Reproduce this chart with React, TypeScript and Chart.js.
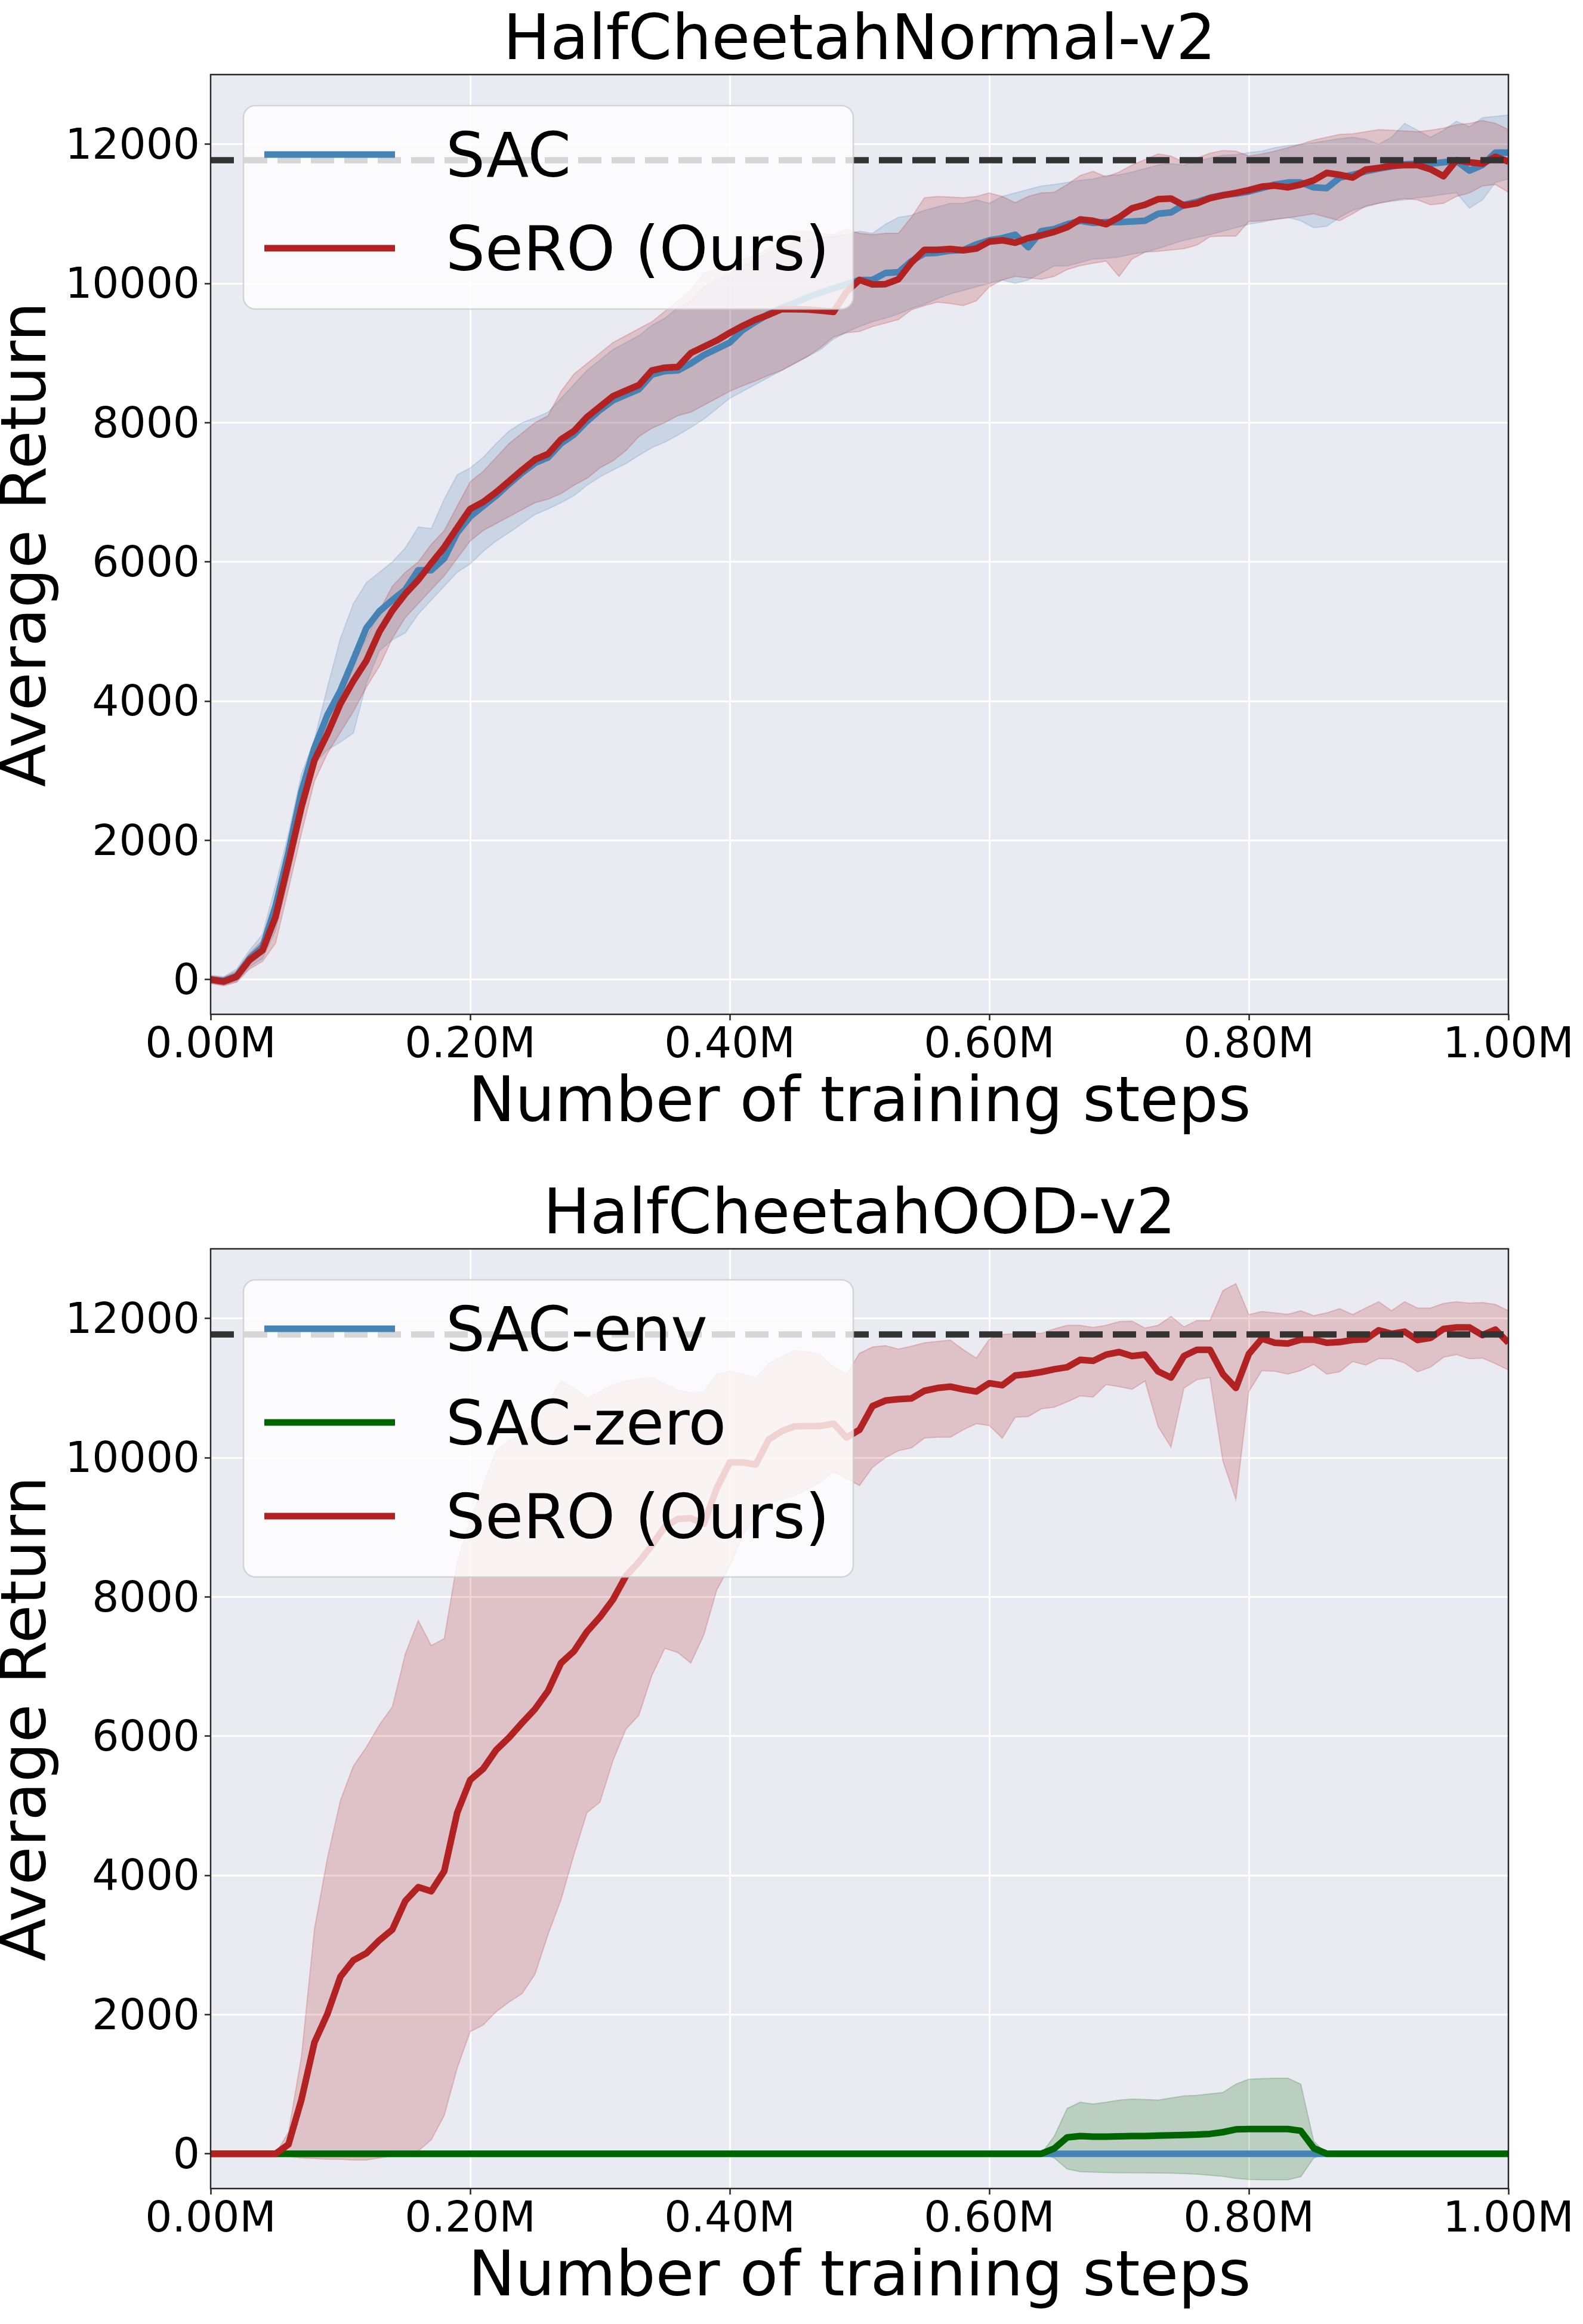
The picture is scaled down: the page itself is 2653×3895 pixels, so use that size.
import React, { useEffect, useRef } from 'react';
import { Chart, registerables } from 'chart.js';

Chart.register(...registerables);

const FONT = "'DejaVu Sans', sans-serif";
const PAGE_W = 2653;
const PAGE_H = 3895;
const TOP_H = 1968;
const BOTTOM_H = PAGE_H - TOP_H;

const BLUE = [70, 130, 180];
const GREEN = [0, 100, 0];
const RED = [178, 34, 34];

// x positions in thousands of training steps (0.01M apart)
const STEPS_K = [
  0, 10, 20, 30, 40, 50, 60, 70, 80, 90,
  100, 110, 120, 130, 140, 150, 160, 170, 180, 190,
  200, 210, 220, 230, 240, 250, 260, 270, 280, 290,
  300, 310, 320, 330, 340, 350, 360, 370, 380, 390,
  400, 410, 420, 430, 440, 450, 460, 470, 480, 490,
  500, 510, 520, 530, 540, 550, 560, 570, 580, 590,
  600, 610, 620, 630, 640, 650, 660, 670, 680, 690,
  700, 710, 720, 730, 740, 750, 760, 770, 780, 790,
  800, 810, 820, 830, 840, 850, 860, 870, 880, 890,
  900, 910, 920, 930, 940, 950, 960, 970, 980, 990,
  1000,
];

const X_TICKS = [0, 200000, 400000, 600000, 800000, 1000000];
const Y_TICKS = [0, 2000, 4000, 6000, 8000, 10000, 12000];
const Y_MIN = -500;
const Y_MAX = 13000;
const REF_RETURN = 11770;

// ---- HalfCheetahNormal-v2 ----
const NORMAL_SAC = [
  0, -20, 50, 300, 470, 1050, 1830, 2700, 3330, 3800,
  4150, 4594, 5050, 5290, 5450, 5600, 5880, 5880, 6050, 6420,
  6650, 6800, 6950, 7120, 7280, 7420, 7500, 7700, 7830, 8020,
  8180, 8320, 8400, 8480, 8690, 8740, 8750, 8850, 8970, 9060,
  9150, 9330, 9450, 9560, 9650, 9720, 9800, 9870, 9930, 9990,
  10050, 10050, 10150, 10160, 10320, 10430, 10440, 10470, 10480, 10560,
  10620, 10650, 10700, 10520, 10750, 10780, 10850, 10900, 10870, 10880,
  10880, 10890, 10900, 11000, 11020, 11130, 11170, 11230, 11270, 11290,
  11320, 11370, 11420, 11450, 11450, 11380, 11370, 11520, 11560, 11610,
  11650, 11680, 11710, 11720, 11720, 11740, 11760, 11620, 11700, 11880,
  11880,
];
const NORMAL_SAC_HI = [
  60, 40, 150, 420, 650, 1350, 2100, 2950, 3450, 4200,
  4900, 5400, 5700, 5850, 6000, 6200, 6500, 6480, 6900, 7250,
  7350, 7500, 7700, 7880, 8000, 8070, 8150, 8350, 8550, 8750,
  8900, 9050, 9150, 9250, 9400, 9500, 9650, 9750, 9950, 10050,
  10150, 10250, 10350, 10450, 10500, 10600, 10620, 10650, 10680, 10700,
  10750, 10720, 10850, 10950, 10980, 11050, 11100, 11150, 11150, 11200,
  11150, 11250, 11300, 11350, 11400, 11420, 11450, 11480, 11500, 11550,
  11560, 11600, 11650, 11700, 11720, 11700, 11760, 11800, 11840, 11850,
  11880, 11900, 11950, 11980, 12000, 12020, 12050, 12080, 12100, 12070,
  12000, 12100, 12300, 12200, 12100, 12200, 12330, 12250, 12380, 12400,
  12420,
];
const NORMAL_SAC_LO = [
  -60, -80, -30, 180, 300, 700, 1450, 2300, 3100, 3300,
  3410, 3540, 4250, 4720, 4880, 4980, 5250, 5450, 5650, 5850,
  5970, 6150, 6300, 6420, 6550, 6680, 6760, 6850, 6950, 7100,
  7220, 7320, 7410, 7530, 7640, 7720, 7820, 7930, 8050, 8200,
  8350, 8450, 8550, 8650, 8750, 8850, 8950, 9050, 9200, 9300,
  9380, 9450, 9500, 9560, 9640, 9700, 9780, 9850, 9900, 9950,
  10000, 10050, 10000, 10050, 10150, 10250, 10250, 10300, 10350, 10360,
  10380, 10420, 10450, 10500, 10560, 10620, 10660, 10700, 10750, 10800,
  10850, 10880, 10920, 10950, 10900, 10800, 10820, 10950, 11050, 11100,
  11150, 11180, 11200, 11230, 11250, 11280, 11300, 11080, 11200, 11450,
  11500,
];
const NORMAL_SERO = [
  0, -30, 40, 280, 420, 900, 1680, 2480, 3150, 3530,
  3960, 4290, 4580, 4995, 5300, 5540, 5740, 5980, 6210, 6490,
  6760, 6860, 7000, 7160, 7320, 7470, 7550, 7760, 7880, 8080,
  8230, 8380, 8460, 8540, 8750, 8790, 8800, 9000, 9090, 9180,
  9290, 9390, 9480, 9550, 9630, 9630, 9625, 9610, 9590, 9880,
  10050, 9985, 9990, 10060, 10300, 10483, 10483, 10495, 10475, 10500,
  10600, 10620, 10585, 10650, 10690, 10740, 10807, 10920, 10900, 10850,
  10950, 11080, 11130, 11210, 11220, 11120, 11150, 11225, 11265, 11300,
  11340, 11390, 11405, 11380, 11420, 11480, 11588, 11560, 11520, 11635,
  11660, 11690, 11700, 11700, 11640, 11540, 11770, 11740, 11720, 11820,
  11750,
];
const NORMAL_SERO_HI = [
  50, 30, 120, 380, 560, 1200, 1950, 2780, 3380, 3780,
  4250, 4600, 4900, 5300, 5650, 5850, 6000, 6250, 6450, 6800,
  7150, 7300, 7500, 7700, 7850, 8000, 8100, 8450, 8700, 8850,
  9000, 9150, 9250, 9350, 9450, 9600, 9750, 9900, 10150, 10200,
  10250, 10350, 10400, 10500, 10600, 10750, 10750, 10720, 10700, 10780,
  10720, 10700, 10720, 10720, 10950, 11230, 11250, 11240, 11230, 11250,
  11300, 11250, 11160, 11250, 11300, 11310, 11420, 11550, 11610, 11530,
  11600, 11700, 11780, 11860, 11830, 11740, 11800, 11870, 11910, 11900,
  11830, 11860, 11900, 11950, 12000, 12060, 12100, 12140, 12150, 12180,
  12210, 12200, 12190, 12180, 12200, 12230, 12280, 12300, 12340, 12300,
  12210,
];
const NORMAL_SERO_LO = [
  -50, -90, -40, 150, 260, 520, 1300, 2100, 2850, 3250,
  3550, 3850, 4200, 4500, 4900, 5200, 5400, 5600, 5800, 6050,
  6300, 6450, 6550, 6650, 6750, 6850, 6900, 6980, 7100, 7200,
  7350, 7450, 7600, 7800, 7920, 8000, 8100, 8150, 8250, 8350,
  8450, 8530, 8600, 8680, 8750, 8850, 8950, 9080, 9230, 9290,
  9310, 9380, 9430, 9480, 9620, 9680, 9730, 9710, 9680, 9750,
  9950, 10050, 10100, 10080, 10060, 10100, 10200, 10255, 10290, 10320,
  10100, 10350, 10450, 10460, 10480, 10500, 10550, 10670, 10680, 10680,
  10890, 10900, 10920, 10940, 10970, 11000, 10950, 10900, 11000, 11110,
  11150, 11190, 11220, 11200, 11130, 11150, 11250, 11300, 11400, 11420,
  11310,
];

// ---- HalfCheetahOOD-v2 ----
const OOD_SAC_ENV = [
  0, 0, 0, 0, 0, 0, 0, 0, 0, 0,
  0, 0, 0, 0, 0, 0, 0, 0, 0, 0,
  0, 0, 0, 0, 0, 0, 0, 0, 0, 0,
  0, 0, 0, 0, 0, 0, 0, 0, 0, 0,
  0, 0, 0, 0, 0, 0, 0, 0, 0, 0,
  0, 0, 0, 0, 0, 0, 0, 0, 0, 0,
  0, 0, 0, 0, 0, 0, 0, 0, 0, 0,
  0, 0, 0, 0, 0, 0, 0, 0, 0, 0,
  0, 0, 0, 0, 0, 0, 0, 0, 0, 0,
  0, 0, 0, 0, 0, 0, 0, 0, 0, 0,
  0,
];
const OOD_SAC_ZERO = [
  0, 0, 0, 0, 0, 0, 0, 0, 0, 0,
  0, 0, 0, 0, 0, 0, 0, 0, 0, 0,
  0, 0, 0, 0, 0, 0, 0, 0, 0, 0,
  0, 0, 0, 0, 0, 0, 0, 0, 0, 0,
  0, 0, 0, 0, 0, 0, 0, 0, 0, 0,
  0, 0, 0, 0, 0, 0, 0, 0, 0, 0,
  0, 0, 0, 0, 0, 75, 235, 255, 245, 245,
  250, 255, 255, 260, 265, 270, 275, 285, 310, 350,
  355, 355, 355, 355, 330, 80, 0, 0, 0, 0,
  0, 0, 0, 0, 0, 0, 0, 0, 0, 0,
  0,
];
const OOD_SAC_ZERO_HI = [
  0, 0, 0, 0, 0, 0, 0, 0, 0, 0,
  0, 0, 0, 0, 0, 0, 0, 0, 0, 0,
  0, 0, 0, 0, 0, 0, 0, 0, 0, 0,
  0, 0, 0, 0, 0, 0, 0, 0, 0, 0,
  0, 0, 0, 0, 0, 0, 0, 0, 0, 0,
  0, 0, 0, 0, 0, 0, 0, 0, 0, 0,
  0, 0, 0, 0, 0, 250, 650, 740, 715, 740,
  770, 786, 780, 770, 800, 830, 840, 860, 880, 1000,
  1070, 1080, 1085, 1086, 1000, 180, 0, 0, 0, 0,
  0, 0, 0, 0, 0, 0, 0, 0, 0, 0,
  0,
];
const OOD_SAC_ZERO_LO = [
  0, 0, 0, 0, 0, 0, 0, 0, 0, 0,
  0, 0, 0, 0, 0, 0, 0, 0, 0, 0,
  0, 0, 0, 0, 0, 0, 0, 0, 0, 0,
  0, 0, 0, 0, 0, 0, 0, 0, 0, 0,
  0, 0, 0, 0, 0, 0, 0, 0, 0, 0,
  0, 0, 0, 0, 0, 0, 0, 0, 0, 0,
  0, 0, 0, 0, 0, -60, -220, -258, -265, -270,
  -272, -274, -275, -278, -280, -285, -295, -310, -325, -355,
  -370, -374, -374, -374, -330, -60, 0, 0, 0, 0,
  0, 0, 0, 0, 0, 0, 0, 0, 0, 0,
  0,
];
const OOD_SERO = [
  0, 0, 0, 0, 0, 0, 134, 780, 1600, 2010,
  2543, 2780, 2880, 3066, 3220, 3632, 3830, 3770, 4060, 4900,
  5370, 5530, 5800, 5980, 6190, 6390, 6650, 7050, 7220, 7500,
  7710, 7960, 8300, 8500, 8740, 9010, 9120, 9130, 9050, 9560,
  9931, 9931, 9900, 10260, 10380, 10450, 10455, 10455, 10490, 10290,
  10400, 10740, 10820, 10840, 10850, 10960, 11000, 11020, 10980, 10950,
  11070, 11040, 11180, 11200, 11230, 11270, 11300, 11405, 11390, 11480,
  11517, 11460, 11480, 11240, 11150, 11460, 11550, 11550, 11200, 11000,
  11490, 11710, 11650, 11640, 11696, 11696, 11650, 11660, 11690, 11700,
  11830, 11780, 11810, 11690, 11720, 11850, 11870, 11870, 11760, 11840,
  11650,
];
const OOD_SERO_HI = [
  0, 0, 0, 0, 0, 0, 309, 1400, 3230, 4250,
  5076, 5570, 5840, 6160, 6420, 7180, 7660, 7300, 7400, 8500,
  9100, 9600, 10100, 10250, 10330, 10500, 10800, 11100, 11000, 10860,
  10950, 11050, 11100, 11130, 11150, 11060, 10970, 10930, 10950, 11200,
  11240, 11200, 11150, 11350, 11450, 11540, 11520, 11480, 11300, 11200,
  11500, 11590, 11610, 11560, 11600, 11650, 11670, 11688, 11550, 11430,
  11700, 11770, 11780, 11790, 11786, 11850, 11900, 11900, 11870, 11900,
  11955, 11961, 11862, 11900, 12030, 11880, 11970, 11970, 12400, 12500,
  12055, 12100, 12080, 12060, 12110, 12040, 12080, 12140, 12055, 12150,
  12240, 12110, 12240, 12150, 12150, 12215, 12240, 12220, 12228, 12200,
  12110,
];
const OOD_SERO_LO = [
  0, 0, 0, 0, 0, 0, -40, -60, -70, -80,
  -80, -90, -90, -60, -30, 0, 40, 200, 550, 1230,
  1754, 1850, 2040, 2180, 2300, 2580, 3150, 3650, 4300, 4900,
  5050, 5646, 6100, 6300, 6870, 7260, 7200, 7050, 7450, 8100,
  8443, 8880, 9150, 9340, 9400, 9450, 9550, 9650, 9800, 9700,
  9600, 9860, 10000, 10100, 10140, 10280, 10294, 10294, 10400, 10488,
  10460, 10280, 10580, 10590, 10700, 10725, 10800, 10887, 10870, 11050,
  11020, 10982, 11100, 10450, 10150, 11000, 11120, 11150, 9950, 9400,
  10950, 11250, 11240, 11200, 11250, 11340, 11200, 11233, 11380, 11330,
  11423, 11420, 11360, 11233, 11300, 11442, 11480, 11420, 11430, 11350,
  11260,
];

interface Series {
  label: string;
  rgb: number[];
  mean: number[];
  hi?: number[];
  lo?: number[];
}

const rgba = (rgb: number[], a: number) => `rgba(${rgb[0]},${rgb[1]},${rgb[2]},${a})`;

const toPoints = (values: number[]) => values.map((y, i) => ({ x: STEPS_K[i] * 1000, y }));

function buildDatasets(series: Series[]) {
  const ds: any[] = [];
  // shaded bands first, then the mean curves, then the dashed reference
  series.forEach((s) => {
    if (!s.hi || !s.lo) return;
    const lowerIndex = ds.length + 1;
    ds.push({
      data: toPoints(s.hi),
      borderColor: rgba(s.rgb, 0.2),
      borderWidth: 2,
      backgroundColor: rgba(s.rgb, 0.2),
      fill: lowerIndex,
      pointRadius: 0,
      clip: 0,
      order: 100 - ds.length,
    });
    ds.push({
      data: toPoints(s.lo),
      borderColor: rgba(s.rgb, 0.2),
      borderWidth: 2,
      fill: false,
      pointRadius: 0,
      clip: 0,
      order: 100 - ds.length,
    });
  });
  series.forEach((s) => {
    ds.push({
      data: toPoints(s.mean),
      borderColor: rgba(s.rgb, 1),
      borderWidth: 11,
      borderJoinStyle: 'round',
      fill: false,
      pointRadius: 0,
      clip: 0,
      order: 100 - ds.length,
    });
  });
  ds.push({
    data: [
      { x: 0, y: REF_RETURN },
      { x: 1000000, y: REF_RETURN },
    ],
    borderColor: '#333333',
    borderWidth: 10.6,
    borderDash: [39, 17],
    borderCapStyle: 'butt',
    fill: false,
    pointRadius: 0,
    clip: 0,
    order: 0,
  });
  return ds;
}

// background, matplotlib-style legend box and the axes frame
function panelPlugin(series: Series[]) {
  return {
    id: 'mplPanel',
    beforeDraw(chart: any) {
      const { ctx, chartArea: a } = chart;
      ctx.save();
      ctx.fillStyle = '#EAEAF2';
      ctx.fillRect(a.left, a.top, a.right - a.left, a.bottom - a.top);
      ctx.restore();
    },
    afterDatasetsDraw(chart: any) {
      const { ctx, chartArea: a } = chart;
      const x0 = a.left + 55;
      const y0 = a.top + 52;
      ctx.save();
      ctx.font = `104px ${FONT}`;
      const textW = Math.max(...series.map((s) => ctx.measureText(s.label).width));
      const w = 339 + textW + 40;
      const h = 82 + (series.length - 1) * 157 + 102;
      ctx.beginPath();
      ctx.roundRect(x0, y0, w, h, 20);
      ctx.fillStyle = 'rgba(255,255,255,0.8)';
      ctx.fill();
      ctx.lineWidth = 2.5;
      ctx.strokeStyle = 'rgba(204,204,204,0.8)';
      ctx.stroke();
      series.forEach((s, i) => {
        const y = y0 + 82 + i * 157;
        ctx.beginPath();
        ctx.moveTo(x0 + 35, y);
        ctx.lineTo(x0 + 254, y);
        ctx.lineWidth = 11;
        ctx.strokeStyle = rgba(s.rgb, 1);
        ctx.stroke();
        ctx.fillStyle = '#000';
        ctx.textBaseline = 'middle';
        ctx.textAlign = 'left';
        ctx.fillText(s.label, x0 + 339, y + 10);
      });
      ctx.restore();
    },
    afterDraw(chart: any) {
      const { ctx, chartArea: a } = chart;
      ctx.save();
      ctx.lineWidth = 2.5;
      ctx.strokeStyle = '#262626';
      ctx.strokeRect(a.left, a.top, a.right - a.left, a.bottom - a.top);
      ctx.restore();
    },
  };
}

interface PanelProps {
  title: string;
  height: number;
  series: Series[];
}

const Panel: React.FC<PanelProps> = ({ title, height, series }) => {
  const canvasRef = useRef<HTMLCanvasElement | null>(null);

  useEffect(() => {
    if (!canvasRef.current) return;
    const xAxisHeight = height - 1700;

    const chart = new Chart(canvasRef.current, {
      type: 'line',
      data: { datasets: buildDatasets(series) },
      options: {
        animation: false,
        responsive: false,
        devicePixelRatio: 1,
        events: [],
        layout: { padding: { left: 0, right: 125, top: 0, bottom: 0 } },
        plugins: {
          legend: { display: false },
          tooltip: { enabled: false },
          title: {
            display: true,
            text: title,
            fullSize: false,
            color: '#000',
            font: { family: FONT, size: 105, weight: 'normal', lineHeight: 1 },
            padding: { top: 19, bottom: 1 },
          },
        },
        scales: {
          x: {
            type: 'linear',
            min: 0,
            max: 1000000,
            afterBuildTicks: (scale: any) => {
              scale.ticks = X_TICKS.map((value) => ({ value }));
            },
            afterFit: (scale: any) => {
              scale.height = xAxisHeight;
              scale.paddingLeft = 0;
              scale.paddingRight = 0;
            },
            ticks: {
              autoSkip: false,
              maxRotation: 0,
              minRotation: 0,
              padding: 15,
              color: '#000',
              font: { family: FONT, size: 71, lineHeight: 0.8 },
              callback: (v: any) => (Number(v) / 1e6).toFixed(2) + 'M',
            },
            grid: {
              color: '#ffffff',
              lineWidth: 3,
              drawTicks: true,
              tickLength: 10,
              tickColor: '#262626',
              tickWidth: 2.5,
            },
            border: { display: false },
            title: {
              display: true,
              text: 'Number of training steps',
              color: '#000',
              font: { family: FONT, size: 105, lineHeight: 1 },
              padding: { top: 0, bottom: height - 1851 - 53 },
            },
          },
          y: {
            type: 'linear',
            min: Y_MIN,
            max: Y_MAX,
            afterBuildTicks: (scale: any) => {
              scale.ticks = Y_TICKS.map((value) => ({ value }));
            },
            afterFit: (scale: any) => {
              scale.width = 353;
              scale.paddingTop = 0;
              scale.paddingBottom = 0;
            },
            ticks: {
              padding: 8,
              labelOffset: 6,
              color: '#000',
              font: { family: FONT, size: 71, lineHeight: 1 },
              callback: (v: any) => String(v),
            },
            grid: {
              color: '#ffffff',
              lineWidth: 3,
              drawTicks: true,
              tickLength: 10,
              tickColor: '#262626',
              tickWidth: 2.5,
            },
            border: { display: false },
            title: {
              display: true,
              text: 'Average Return',
              color: '#000',
              font: { family: FONT, size: 105, lineHeight: 0.9 },
              padding: { top: 1, bottom: 0 },
            },
          },
        },
      },
      plugins: [panelPlugin(series)],
    } as any);

    return () => {
      chart.destroy();
    };
  }, [title, height, series]);

  return (
    <canvas
      ref={canvasRef}
      width={PAGE_W}
      height={height}
      style={{ display: 'block', width: PAGE_W, height }}
    />
  );
};

const NORMAL_SERIES: Series[] = [
  { label: 'SAC', rgb: BLUE, mean: NORMAL_SAC, hi: NORMAL_SAC_HI, lo: NORMAL_SAC_LO },
  { label: 'SeRO (Ours)', rgb: RED, mean: NORMAL_SERO, hi: NORMAL_SERO_HI, lo: NORMAL_SERO_LO },
];

const OOD_SERIES: Series[] = [
  { label: 'SAC-env', rgb: BLUE, mean: OOD_SAC_ENV },
  { label: 'SAC-zero', rgb: GREEN, mean: OOD_SAC_ZERO, hi: OOD_SAC_ZERO_HI, lo: OOD_SAC_ZERO_LO },
  { label: 'SeRO (Ours)', rgb: RED, mean: OOD_SERO, hi: OOD_SERO_HI, lo: OOD_SERO_LO },
];

export default function App() {
  return (
    <div
      style={{
        position: 'absolute',
        left: 0,
        top: 0,
        width: PAGE_W,
        height: PAGE_H,
        background: '#fff',
      }}
    >
      <Panel title="HalfCheetahNormal-v2" height={TOP_H} series={NORMAL_SERIES} />
      <Panel title="HalfCheetahOOD-v2" height={BOTTOM_H} series={OOD_SERIES} />
    </div>
  );
}
